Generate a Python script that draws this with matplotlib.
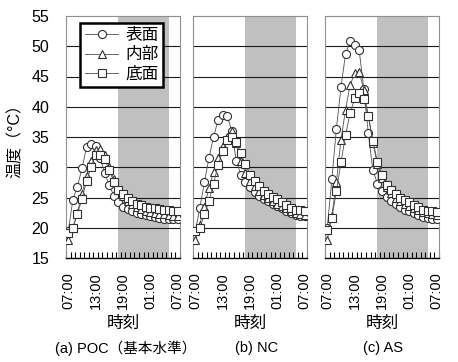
import matplotlib
matplotlib.use("Agg")
import matplotlib.pyplot as plt
from matplotlib.ticker import MultipleLocator, FixedLocator

plt.rcParams['font.family'] = ['Liberation Sans', 'Noto Sans CJK JP', 'DejaVu Sans']

# hours after 07:00, one reading per hour
hours = list(range(25))
tick_pos = [0, 6, 12, 18, 24]
tick_labels = ["07:00", "13:00", "19:00", "01:00", "07:00"]
night = (10.9, 22.1)  # shaded night period

series_names = ["表面", "内部", "底面"]

# (a) POC
a_surface = [19.4, 24.6, 26.8, 29.8, 33.3, 33.8, 33.5, 31.5, 29.0, 27.0, 25.3, 24.2, 23.5,
             23.1, 22.8, 22.5, 22.3, 22.1, 21.9, 21.7, 21.6, 21.5, 21.4, 21.4, 21.5]
a_inner = [17.9, 20.0, 22.5, 25.5, 28.5, 31.0, 32.8, 33.0, 32.0, 30.0, 28.0, 26.3, 25.2,
           24.5, 23.9, 23.5, 23.1, 22.8, 22.6, 22.4, 22.3, 22.2, 22.1, 22.0, 22.0]
a_bottom = [19.1, 20.0, 22.2, 24.8, 27.7, 30.1, 32.0, 32.1, 31.3, 29.5, 27.6, 26.3, 25.5,
            24.9, 24.4, 24.0, 23.7, 23.4, 23.3, 23.2, 23.1, 23.0, 22.9, 22.8, 22.7]

# (b) NC
b_surface = [19.4, 23.3, 27.5, 31.5, 35.0, 37.8, 38.6, 38.5, 36.0, 31.0, 28.8, 27.5, 26.7,
             25.9, 25.3, 24.8, 24.4, 24.0, 23.6, 23.2, 22.8, 22.4, 22.1, 21.9, 21.9]
b_inner = [17.9, 20.5, 23.5, 26.5, 29.2, 31.5, 33.5, 35.0, 36.0, 34.0, 31.0, 29.0, 27.8,
           26.9, 26.0, 25.4, 24.9, 24.4, 24.0, 23.6, 23.2, 22.8, 22.5, 22.3, 22.1]
b_bottom = [19.5, 20.0, 22.2, 24.4, 27.3, 30.3, 32.7, 34.5, 35.0, 34.2, 32.3, 30.5, 28.8,
            27.7, 26.9, 26.1, 25.6, 25.1, 24.7, 24.2, 23.7, 23.3, 23.0, 22.9, 22.8]

# (c) AS
c_surface = [20.0, 28.0, 36.4, 43.2, 48.7, 50.8, 50.2, 49.3, 43.0, 35.6, 29.5, 27.3, 26.0,
             25.1, 24.4, 23.9, 23.4, 23.0, 22.7, 22.4, 22.1, 21.8, 21.6, 21.5, 21.5]
c_inner = [18.0, 22.0, 27.5, 34.5, 39.5, 43.6, 45.5, 45.8, 42.8, 38.5, 34.0, 30.5, 28.3,
           26.8, 25.8, 25.0, 24.5, 24.0, 23.6, 23.2, 22.9, 22.6, 22.4, 22.2, 22.1]
c_bottom = [19.6, 21.6, 26.0, 30.8, 35.3, 38.9, 41.4, 42.3, 41.2, 38.5, 34.4, 30.8, 28.7,
            27.1, 26.2, 25.5, 25.0, 24.6, 24.2, 23.8, 23.4, 23.0, 22.8, 22.7, 22.6]

panels = [
    ("(a) POC（基本水準）", [a_surface, a_inner, a_bottom]),
    ("(b) NC", [b_surface, b_inner, b_bottom]),
    ("(c) AS", [c_surface, c_inner, c_bottom]),
]
markers = ["o", "^", "s"]

W, H = 458, 362
fig = plt.figure(figsize=(W / 100, H / 100), dpi=100)

# axes boxes in pixels: left, right ; top/bottom shared
lefts = [66, 193, 325]
pw = 114
top, bottom = 16, 258
caption_x = [126, 257, 383]

for k, (caption, data) in enumerate(panels):
    ax = fig.add_axes([lefts[k] / W, (H - bottom) / H, pw / W, (bottom - top) / H])
    ax.axvspan(night[0], night[1], color="#c0c0c0", lw=0, zorder=0)
    for y in range(20, 55, 5):
        ax.axhline(y, color="#1a1a1a", lw=0.8, zorder=1)

    for vals, m, name in zip(data, markers, series_names):
        ax.plot(hours, vals, marker=m, color="#505050", lw=0.6, ms=5.4 if m != "o" else 5.8,
                mfc="white", mec="#303030", mew=0.8, label=name, zorder=3)

    ax.set_xlim(-0.5, 24.5)
    ax.set_ylim(15, 55)
    ax.xaxis.set_major_locator(FixedLocator(tick_pos))
    ax.set_xticklabels(tick_labels, rotation=90, fontsize=10.5)
    ax.xaxis.set_minor_locator(FixedLocator([i - 0.5 for i in range(26)]))
    ax.tick_params(axis="x", which="major", length=0, pad=10)
    ax.tick_params(axis="x", which="minor", direction="in", length=4, width=0.8, color="black")
    ax.yaxis.set_major_locator(MultipleLocator(5))
    ax.tick_params(axis="y", length=0, pad=12, labelsize=11.5)
    if k > 0:
        ax.set_yticklabels([])
    else:
        ax.set_ylabel("温度（°C）", fontsize=11.5, labelpad=6)

    for s in ["left", "top", "right"]:
        ax.spines[s].set_color("#909090")
        ax.spines[s].set_linewidth(0.8)
    ax.spines["bottom"].set_color("black")
    ax.spines["bottom"].set_linewidth(1.0)

    cx = (lefts[k] + pw / 2) / W
    fig.text(cx, 1 - 323 / H, "時刻", ha="center", va="center", fontsize=12)
    fig.text(caption_x[k] / W, 1 - 348 / H, caption, ha="center", va="center", fontsize=10.5)

    if k == 0:
        leg = ax.legend(loc="upper left", bbox_to_anchor=(0.123, 0.97), borderaxespad=0,
                        fontsize=12, frameon=True, fancybox=False, handlelength=2.0,
                        handletextpad=0.4, labelspacing=0.25, borderpad=0.3)
        leg.get_frame().set_edgecolor("black")
        leg.get_frame().set_linewidth(1.8)
        leg.get_frame().set_alpha(1)
        leg.set_zorder(5)

fig.savefig("out.png", dpi=100)
